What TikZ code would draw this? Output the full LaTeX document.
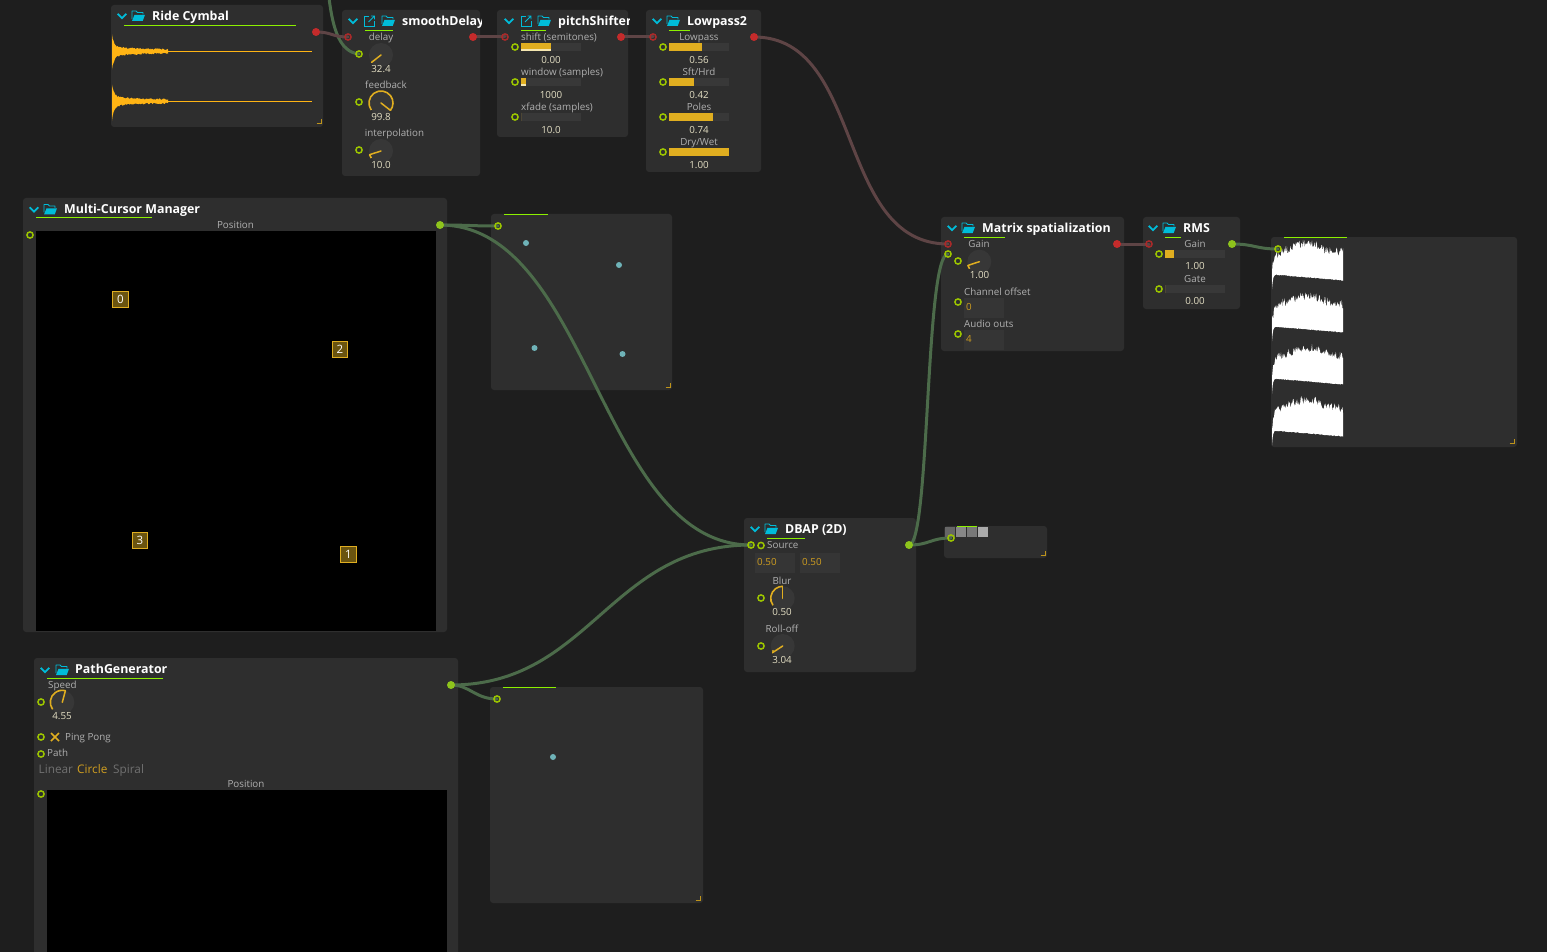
\documentclass[tikz,border=0pt]{standalone}
\usepackage{fontspec}
\setmainfont{Open Sans}
\usetikzlibrary{calc}
\definecolor{bgc}{HTML}{1E1E1E}
\definecolor{panelc}{HTML}{2E2E2E}
\definecolor{trackc}{HTML}{383838}
\definecolor{knobc}{HTML}{373737}
\definecolor{goldc}{HTML}{E0AE20}
\definecolor{paleg}{HTML}{F4E6B0}
\definecolor{labc}{HTML}{B0B0B0}
\definecolor{valc}{HTML}{E4DFC4}
\definecolor{numc}{HTML}{D09E20}
\definecolor{dimc}{HTML}{707070}
\definecolor{cyanc}{HTML}{00BCD9}
\definecolor{limec}{HTML}{8CF000}
\definecolor{ringc}{HTML}{9BC400}
\definecolor{outg}{HTML}{8EC41C}
\definecolor{redc}{HTML}{C42B2B}
\definecolor{ringr}{HTML}{A82A2A}
\definecolor{cabg}{HTML}{4C6B4A}
\definecolor{cabr}{HTML}{5E4445}
\definecolor{wavey}{HTML}{FFB414}
\definecolor{dotc}{HTML}{6FB3B8}
\definecolor{curbg}{HTML}{6A5410}
\pgfdeclarelayer{bglayer}
\pgfdeclarelayer{cablayer}
\pgfsetlayers{bglayer,cablayer,main}
\tikzset{
  panel/.style={fill=panelc,draw=none,rounded corners=3pt,inner sep=0,outer sep=0,anchor=north west},
  inport/.style={circle,draw=ringc,line width=1.5pt,minimum size=6.2pt,inner sep=0,fill=none},
  outport/.style={circle,fill=outg,draw=none,minimum size=8pt,inner sep=0},
  redin/.style={circle,draw=ringr,line width=1.5pt,minimum size=6.2pt,inner sep=0,fill=none},
  redout/.style={circle,fill=redc,draw=none,minimum size=8pt,inner sep=0},
  cableg/.style={draw=cabg,line width=3pt,line cap=round},
  cabler/.style={draw=cabr,line width=3pt,line cap=round},
  lab/.style={text=labc,font=\fontsize{9.8}{11}\selectfont,inner sep=0},
  val/.style={text=valc,font=\fontsize{9.8}{11}\selectfont,inner sep=0},
  num/.style={text=numc,font=\fontsize{9.8}{11}\selectfont,inner sep=0},
  ttl/.style={text=white,font=\fontsize{12.4}{14}\selectfont\bfseries,inner sep=0,anchor=mid west,yshift=-2.4pt},
  opt/.style={font=\fontsize{11.8}{14}\selectfont,inner sep=0,anchor=mid west,yshift=-1.5pt},
  curs/.style={fill=curbg,draw=goldc,line width=.9pt,text=white,minimum size=15.5pt,inner sep=0,font=\fontsize{11.5}{12}\selectfont},
  dotn/.style={circle,fill=dotc,minimum size=6pt,inner sep=0},
  under/.style={draw=limec,line width=1pt},
  chev/.style={draw=cyanc,line width=1.7pt},
  needle/.style={draw=goldc,line width=1.5pt,line cap=round},
  track/.style={fill=trackc},
  boxc/.style={fill=black},
  inbox/.style={fill=trackc!70!panelc},
}
\newcount\lblc
\newcommand{\txt}[5]{\global\advance\lblc by 1 \node[#1,anchor=#2,yshift=-1pt] (t\the\lblc) at (#3,#4) {#5};}
\newcommand{\mkpanel}[5]{\node[panel,minimum width={#4pt-#2pt},minimum height={#5pt-#3pt}] (#1) at (#2,#3) {};}
\newcommand{\chevron}[2]{\draw[chev] (#1-4.3,#2-2.2) -- (#1,#2+2.2) -- (#1+4.3,#2-2.2);}
\newcommand{\folder}[2]{%
  \draw[cyanc,line width=.9pt,line join=round] (#1-6,#2+3) -- (#1-6,#2-5) -- (#1-2,#2-5) -- (#1-.5,#2-3.5) -- (#1+5,#2-3.5) -- (#1+5,#2-1.5);
  \fill[cyanc] (#1-6,#2+5) -- (#1-3.5,#2-1.2) -- (#1+7,#2-1.2) -- (#1+4.7,#2+5) -- cycle;}
\newcommand{\extlink}[2]{%
  \draw[cyanc,line width=.9pt] (#1-.5,#2-5) -- (#1-5,#2-5) -- (#1-5,#2+5) -- (#1+5,#2+5) -- (#1+5,#2+.5);
  \draw[cyanc,line width=.9pt] (#1-1,#2+1) -- (#1+5,#2-5) (#1+1.5,#2-5) -- (#1+5,#2-5) -- (#1+5,#2-1.5);}
\newcommand{\corner}[2]{\draw[goldc!85!black,line width=1pt] (#1-4.5,#2) -- (#1,#2) -- (#1,#2-4.5);}
\newcommand{\knob}[3]{%
  \fill[knobc] (#1,#2) circle[radius=12];
  \ifdim#3pt<216pt
    \draw[goldc,line width=1.6pt] (#1,#2) ++(216:12pt) arc[start angle=216,end angle=#3,radius=12pt];
  \fi
  \draw[needle] (#1,#2) -- ++(#3:12pt);}
\newcommand{\slider}[4]{%
  \fill[track] (#1,#2) rectangle (#1+60,#2+8);
  \fill[goldc] (#1,#2) rectangle (#3,#2+8);
  \ifnum#4=1 \fill[paleg] (#1,#2+6) rectangle (#3,#2+8);\fi}
\newcommand{\ywave}[1]{%
  \draw[wavey,line width=.9pt] (112,#1) -- (312,#1);
  \fill[wavey] plot[domain=0:56,samples=70] ({112+\x},{#1-1-3*exp(-\x/22)-12*exp(-\x/2)-1.6*rnd})
     -- plot[domain=56:0,samples=70] ({112+\x},{#1+1+3*exp(-\x/22)+14*exp(-\x/2)+1.6*rnd}) -- cycle;}
\newcommand{\wwave}[1]{%
  \fill[white] plot[domain=0:71,samples=120] ({1272+\x},{#1+10-9*exp(-((\x-35)/18)*((\x-35)/18))+18*exp(-\x/2.5)+9*rnd})
     -- plot[domain=71:0,samples=120] ({1272+\x},{#1+36+6*\x/71+15*exp(-\x/.9)+.8*rnd}) -- cycle;}
\begin{document}
\begin{tikzpicture}[x=1pt,y=-1pt]
\pgfmathsetseed{4242}
\useasboundingbox (0,0) rectangle (1547,952);
\begin{pgfonlayer}{bglayer}
\fill[bgc] (0,0) rectangle (1547,952);
\mkpanel{ride}{111}{5}{323}{127}
\mkpanel{delayp}{342}{10}{480}{176}
\mkpanel{pitchp}{497}{10}{628}{137}
\mkpanel{lowp}{646}{10}{761}{172}
\mkpanel{mcm}{23}{198}{447}{632}
\mkpanel{xyone}{491}{214}{672}{390}
\mkpanel{matrix}{941}{217}{1124}{351}
\mkpanel{rms}{1143}{217}{1240}{309}
\mkpanel{scope}{1271}{237}{1517}{447}
\mkpanel{dbap}{744}{518}{916}{672}
\mkpanel{vu}{944}{526}{1047}{558}
\mkpanel{pathg}{34}{658}{458}{960}
\mkpanel{xytwo}{490}{687}{703}{903}
\end{pgfonlayer}
\fill[boxc] (36,231) rectangle (436,631);
\fill[boxc] (47,790) rectangle (447,952);
\ywave{51.3}
\ywave{101.3}
\wwave{238}
\wwave{290}
\wwave{342}
\wwave{394}
\chevron{122}{16}\folder{138}{16}\node[ttl] (tride) at (152,15.5) {Ride Cymbal};
\draw[under] (124,26) -- (296,26);
\chevron{353}{21}\extlink{369.5}{21}\folder{388}{21}
\begin{scope}\clip (342,10) rectangle (481,32);\node[ttl] (tdelay) at (402,20.5) {smoothDelay};\end{scope}
\draw[under] (365,31) -- (393,31);
\chevron{509}{21}\extlink{526}{21}\folder{544}{21}
\begin{scope}\clip (497,10) rectangle (629,32);\node[ttl] (tpitch) at (558,20.5) {pitchShifter};\end{scope}
\draw[under] (521,31) -- (546,31);
\chevron{657}{21}\folder{673}{21}\node[ttl] (tlow) at (687,20.5) {Lowpass2};
\draw[under] (669,31) -- (690,31);
\chevron{34}{209.5}\folder{50}{209.5}\node[ttl] (tmcm) at (64,208.5) {Multi-Cursor Manager};
\draw[under] (36,218) -- (152,218);
\chevron{952}{228}\folder{968}{228}\node[ttl] (tmatrix) at (982,227.5) {Matrix spatialization};
\draw[under] (964,237) -- (1005,237);
\chevron{1153}{228}\folder{1169}{228}\node[ttl] (trms) at (1183,227.5) {RMS};
\draw[under] (1165,237) -- (1181,237);
\chevron{755}{529}\folder{771}{529}\node[ttl] (tdbap) at (785,528.5) {DBAP (2D)};
\draw[under] (767,538.5) -- (805,538.5);
\chevron{45}{670}\folder{62}{670}\node[ttl] (tpath) at (75,668.5) {PathGenerator};
\draw[under] (47,678.5) -- (163,678.5);
\draw[under] (504,214.5) -- (548,214.5);
\draw[under] (503,687.5) -- (556,687.5);
\draw[under] (1284,237.5) -- (1347,237.5);
\corner{321}{124}\corner{670}{387}\corner{700}{900}\corner{1045}{555}\corner{1514}{443}
\txt{lab}{mid}{381}{37}{delay}
\knob{381}{55}{218}
\txt{val}{mid}{381}{69}{32.4}
\txt{lab}{mid}{386}{85}{feedback}
\knob{381}{103}{-38}
\txt{val}{mid}{381}{117}{99.8}
\txt{lab}{mid}{394.5}{133}{interpolation}
\knob{381}{151}{198}
\txt{val}{mid}{381}{165}{10.0}
\txt{lab}{mid west}{521}{37}{shift (semitones)}
\slider{521}{43}{551}{1}
\txt{val}{mid}{551}{60}{0.00}
\txt{lab}{mid west}{521}{72}{window (samples)}
\slider{521}{78}{526}{1}
\txt{val}{mid}{551}{95}{1000}
\txt{lab}{mid west}{521}{107}{xfade (samples)}
\slider{521}{113}{521}{0}
\txt{val}{mid}{551}{130}{10.0}
\txt{lab}{mid}{699}{37}{Lowpass}
\slider{669}{43}{702}{0}
\txt{val}{mid}{699}{60}{0.56}
\txt{lab}{mid}{699}{72}{Sft/Hrd}
\slider{669}{78}{694}{0}
\txt{val}{mid}{699}{95}{0.42}
\txt{lab}{mid}{699}{107}{Poles}
\slider{669}{113}{713}{0}
\txt{val}{mid}{699}{130}{0.74}
\txt{lab}{mid}{699}{142}{Dry/Wet}
\slider{669}{148}{729}{0}
\txt{val}{mid}{699}{165}{1.00}
\txt{lab}{mid}{235.5}{225}{Position}
\node[curs] (c0) at (120.5,299.5) {0};
\node[curs] (c2) at (340,349.5) {2};
\node[curs] (c3) at (140,540.5) {3};
\node[curs] (c1) at (348.5,554.5) {1};
\node[dotn] (d1) at (526,243) {};
\node[dotn] (d2) at (619,265) {};
\node[dotn] (d3) at (534.5,348) {};
\node[dotn] (d4) at (622.5,354) {};
\node[dotn] (d5) at (553,757) {};
\txt{lab}{mid}{979}{244}{Gain}
\knob{979.3}{261.7}{198}
\txt{val}{mid}{979.5}{275}{1.00}
\txt{lab}{mid west}{964}{292}{Channel offset}
\fill[inbox] (964,298) rectangle (1004,318);
\txt{num}{mid west}{966}{307}{0}
\txt{lab}{mid west}{964}{324}{Audio outs}
\fill[inbox] (964,330) rectangle (1004,350);
\txt{num}{mid west}{966}{339}{4}
\txt{lab}{mid}{1195}{244}{Gain}
\slider{1165}{250}{1174}{0}
\txt{val}{mid}{1195}{266}{1.00}
\txt{lab}{mid}{1195}{279}{Gate}
\slider{1165}{285}{1165}{0}
\txt{val}{mid}{1195}{301}{0.00}
\txt{lab}{mid west}{767}{545}{Source}
\fill[inbox] (755,553) rectangle (795,573);
\fill[inbox] (800,553) rectangle (840,573);
\txt{num}{mid west}{757}{562}{0.50}
\txt{num}{mid west}{802}{562}{0.50}
\txt{lab}{mid}{782}{581}{Blur}
\knob{782.7}{598.3}{90}
\txt{val}{mid}{782}{612}{0.50}
\txt{lab}{mid}{782}{629}{Roll-off}
\knob{782.7}{646}{213}
\fill[goldc] (773,651) circle[radius=1.2];
\txt{val}{mid}{782}{660}{3.04}
\fill[black!60!white] (945,527) rectangle (955,537);
\fill[black!47!white] (956,527) rectangle (966,537);
\fill[black!53!white] (967,527) rectangle (977,537);
\fill[black!33!white] (978,527) rectangle (988,537);
\draw[under] (957,526.5) -- (977,526.5);
\txt{lab}{mid west}{48}{685}{Speed}
\knob{62.3}{702.3}{75}
\txt{val}{mid}{62}{716}{4.55}
\draw[goldc,line width=1.5pt] (51,733) -- (59,741) (59,733) -- (51,741);
\txt{lab}{mid west}{65}{737}{Ping Pong}
\txt{lab}{mid west}{47}{753}{Path}
\node[opt,text=dimc] (tlin) at (38.5,769) {Linear};
\node[opt,text=numc] (tcir) at (77,769) {Circle};
\node[opt,text=dimc] (tspi) at (113,769) {Spiral};
\txt{lab}{mid}{246}{784}{Position}
\coordinate (top) at (329,-2);
\node[redout] (rideout) at (316,32) {};
\node[redin] (delayin) at (348,37) {};
\node[redout] (delayout) at (473,37) {};
\node[redin] (pitchin) at (505,37) {};
\node[redout] (pitchout) at (621,37) {};
\node[redin] (lowin) at (653,37) {};
\node[redout] (lowout) at (754,37) {};
\node[redin] (matin) at (948,244) {};
\node[redout] (matout) at (1117,244) {};
\node[redin] (rmsin) at (1149,244) {};
\node[outport] (rmsout) at (1232,244) {};
\node[inport] (scopein) at (1278,249) {};
\node[inport] (matg) at (948,254) {};
\node[inport] (delayp1) at (359,54) {};
\node[inport] (delayp2) at (359,102) {};
\node[inport] (delayp3) at (359,150) {};
\foreach \n/\x/\y in {ps1/515/47,ps2/515/82,ps3/515/117,lp1/663/47,lp2/663/82,lp3/663/117,lp4/663/152,
  mcmp/30/235,pg1/41/702,pg2/41/737,pg3/41/754,pg4/41/794,mx1/958/261,mx2/958/302,mx3/958/334,
  rm1/1159/254,rm2/1159/289,db1/761/545.5,db2/761/598,db3/761/646}
  {\node[inport] (\n) at (\x,\y) {};}
\node[outport] (mcmout) at (440,225) {};
\node[inport] (xyonein) at (498,226) {};
\node[outport] (pathout) at (451,685) {};
\node[inport] (xytwoin) at (497,699) {};
\node[inport] (dbapin) at (751,545) {};
\node[outport] (dbapout) at (909,545) {};
\node[inport] (vuin) at (951,538) {};
\begin{pgfonlayer}{cablayer}
\draw[cableg] (top) .. controls (333,30) and (340,52) .. (delayp1.center);
\draw[cabler] (rideout.center) .. controls (332,32) and (332,37) .. (delayin.center);
\draw[cabler] (delayout.center) .. controls (489,37) and (489,37) .. (pitchin.center);
\draw[cabler] (pitchout.center) .. controls (637,37) and (637,37) .. (lowin.center);
\draw[cabler] (lowout.center) .. controls (865,37) and (835,244) .. (matin.center);
\draw[cabler] (matout.center) .. controls (1133,244) and (1133,244) .. (rmsin.center);
\draw[cableg] (rmsout.center) .. controls (1255,244) and (1255,249) .. (scopein.center);
\draw[cableg] (mcmout.center) .. controls (470,225) and (470,226) .. (xyonein.center);
\draw[cableg] (mcmout.center) .. controls (590,225) and (600,545) .. (dbapin.center);
\draw[cableg] (pathout.center) .. controls (470,685) and (475,699) .. (xytwoin.center);
\draw[cableg] (pathout.center) .. controls (590,685) and (610,545) .. (dbapin.center);
\draw[cableg] (dbapout.center) .. controls (930,545) and (925,254) .. (matg.center);
\draw[cableg] (dbapout.center) .. controls (930,545) and (930,538) .. (vuin.center);
\end{pgfonlayer}
\end{tikzpicture}
\end{document}
